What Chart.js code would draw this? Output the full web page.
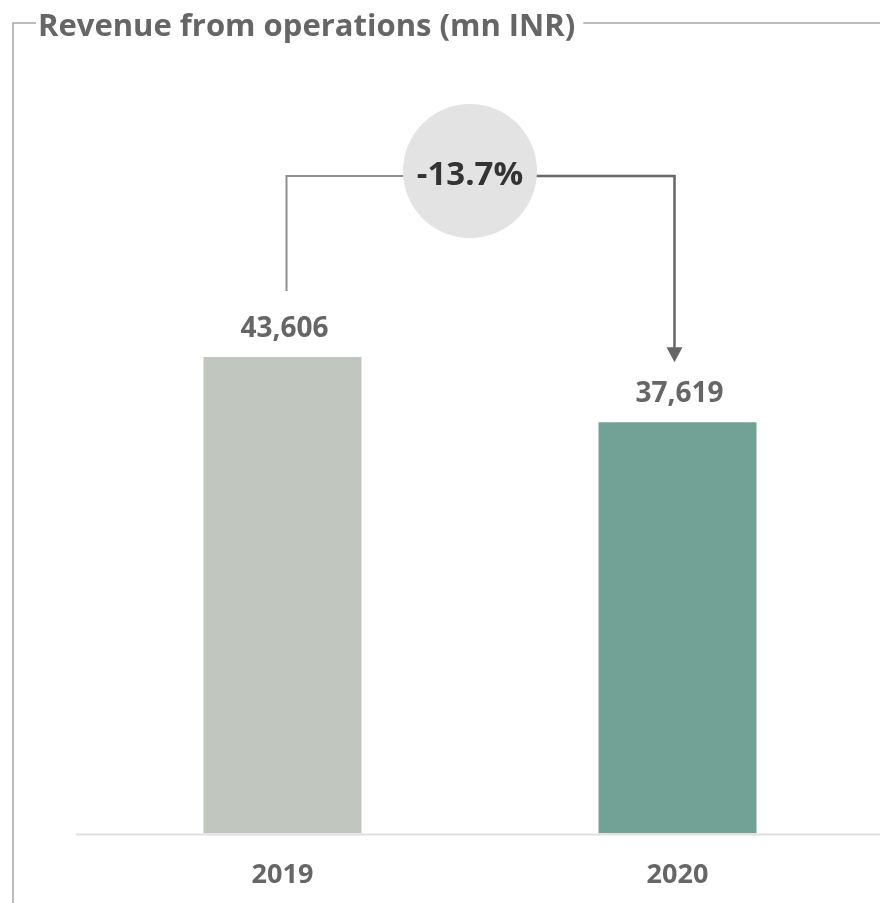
<!DOCTYPE html>
<html>
<head>
<meta charset="utf-8">
<script src="https://cdn.jsdelivr.net/npm/chart.js@4.4.1/dist/chart.umd.min.js"></script>
<style>
  html, body { margin: 0; padding: 0; background: #ffffff; }
  #wrap { position: relative; width: 880px; height: 903px; }
</style>
</head>
<body>
<div id="wrap"><canvas id="revenueChart"></canvas></div>
<script>
// Revenue from operations, mn INR
const years = ['2019', '2020'];
const revenue = [43606, 37619];
const barColors = ['#c1c6bf', '#72a195'];
const chartTitle = 'Revenue from operations (mn INR)';

const FONT = '"Open Sans", "DejaVu Sans", sans-serif';

function fmt(v) {
    return v.toLocaleString('en-US');
}

// title with the frame line around it
const framePlugin = {
    id: 'frame',
    beforeDraw(chart) {
        const c = chart.ctx;
        c.save();
        c.font = 'bold 31px ' + FONT;
        const tx = 38;
        const ty = 27;
        const tw = c.measureText(chartTitle).width;
        c.strokeStyle = '#a6a6a6';
        c.lineWidth = 1.5;
        c.beginPath();
        c.moveTo(13, 903);
        c.lineTo(13, 23);
        c.lineTo(tx - 2, 23);
        c.moveTo(tx + tw + 8, 23);
        c.lineTo(880, 23);
        c.stroke();
        c.fillStyle = '#666666';
        c.textBaseline = 'middle';
        c.fillText(chartTitle, tx, ty);
        c.restore();
    }
};

// value labels, baseline, change connector
const labelPlugin = {
    id: 'labels',
    afterDatasetsDraw(chart) {
        const c = chart.ctx;
        const meta = chart.getDatasetMeta(0);
        const yScale = chart.scales.y;
        const base = yScale.getPixelForValue(0);

        c.save();
        // baseline
        c.strokeStyle = '#e0e0e0';
        c.lineWidth = 2;
        c.beginPath();
        c.moveTo(76, base + 1);
        c.lineTo(880, base + 1);
        c.stroke();

        // value labels
        c.font = 'bold 28px ' + FONT;
        c.fillStyle = '#666666';
        c.textAlign = 'center';
        c.textBaseline = 'alphabetic';
        meta.data.forEach((bar, i) => {
            c.fillText(fmt(revenue[i]), bar.x + 2, bar.y - 20);
        });

        // connector
        const b0 = meta.data[0], b1 = meta.data[1];
        const x0 = b0.x + 4, x1 = b1.x - 3;
        const lineY = 176;
        c.lineWidth = 2;
        c.strokeStyle = '#8f8f8f';
        c.beginPath();
        c.moveTo(x0, b0.y - 66);
        c.lineTo(x0, lineY);
        c.lineTo((x0 + x1) / 2, lineY);
        c.stroke();
        c.strokeStyle = '#666666';
        c.lineWidth = 2.5;
        const tipY = b1.y - 60;
        c.beginPath();
        c.moveTo((x0 + x1) / 2, lineY);
        c.lineTo(x1, lineY);
        c.lineTo(x1, tipY - 14);
        c.stroke();
        c.fillStyle = '#666666';
        c.beginPath();
        c.moveTo(x1 - 8, tipY - 15);
        c.lineTo(x1 + 8, tipY - 15);
        c.lineTo(x1, tipY);
        c.closePath();
        c.fill();

        // change bubble
        const cx = 470, cy = 171;
        c.fillStyle = '#e3e3e3';
        c.beginPath();
        c.arc(cx, cy, 67, 0, Math.PI * 2);
        c.fill();
        const change = (revenue[1] - revenue[0]) / revenue[0] * 100;
        c.fillStyle = '#333333';
        c.font = 'bold 33px ' + FONT;
        c.textBaseline = 'middle';
        c.fillText(change.toFixed(1) + '%', cx, cy + 5);
        c.restore();
    }
};

new Chart(document.getElementById('revenueChart'), {
    type: 'bar',
    data: {
        labels: years,
        datasets: [{
            data: revenue,
            backgroundColor: barColors,
            barPercentage: 0.4,
            categoryPercentage: 1.0
        }]
    },
    options: {
        responsive: true,
        maintainAspectRatio: false,
        animation: false,
        layout: {
            padding: { top: 287, left: 85, right: 5, bottom: -15 }
        },
        plugins: {
            legend: { display: false },
            tooltip: { enabled: false }
        },
        scales: {
            x: {
                grid: { display: false, drawTicks: false },
                border: { display: false },
                ticks: {
                    color: '#666666',
                    font: { family: FONT, size: 27, weight: 'bold' },
                    padding: 26
                }
            },
            y: {
                display: false,
                min: 0,
                max: 50000
            }
        }
    },
    plugins: [framePlugin, labelPlugin]
});
</script>
</body>
</html>
